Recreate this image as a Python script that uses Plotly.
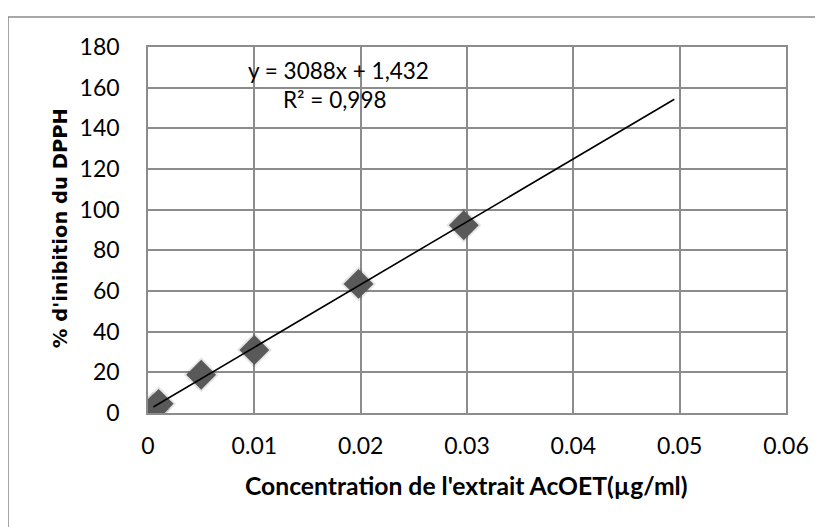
import plotly.graph_objects as go

# Data
conc = [0.0005, 0.001, 0.005, 0.01, 0.0198, 0.0297]
inhib = [2.0, 4.5, 18.8, 31.0, 63.5, 92.3]

# Linear trend line (as printed on chart)
slope = 3088
intercept = 1.432
trend_x = [0.0005, 0.0495]
trend_y = [slope * x + intercept for x in trend_x]

x_ticks = [0, 0.01, 0.02, 0.03, 0.04, 0.05, 0.06]
y_ticks = [0, 20, 40, 60, 80, 100, 120, 140, 160, 180]

eq_text = "y = 3088x + 1,432"
r2_text = "R² = 0,998"
x_title = "Concentration de l'extrait AcOET(µg/ml)"
y_title = "% d'inibition du DPPH"

grid = "#8c8c8c"

fig = go.Figure()
fig.add_trace(go.Scatter(
    x=conc, y=inhib, mode="markers",
    marker=dict(symbol="diamond", size=27, color="rgba(0,0,0,0.10)", line=dict(width=0)),
    hoverinfo="skip", showlegend=False))
fig.add_trace(go.Scatter(
    x=conc, y=inhib, mode="markers",
    marker=dict(symbol="diamond", size=23, color="#595959", line=dict(width=0)),
    showlegend=False))
fig.add_trace(go.Scatter(
    x=trend_x, y=trend_y, mode="lines",
    line=dict(color="black", width=1.6), showlegend=False))

fig.add_annotation(x=0.0179, y=168.5, text=eq_text, showarrow=False,
                   font=dict(family="Lato", size=22.5, color="black"))
fig.add_annotation(x=0.0176, y=154, text=r2_text, showarrow=False,
                   font=dict(family="Lato", size=22.5, color="black"))

fig.add_annotation(xref="paper", yref="paper", x=0.499, y=-0.197,
                   xanchor="center", yanchor="middle",
                   text=f"<b>{x_title}</b>", showarrow=False,
                   font=dict(family="Lato", size=24.7, color="black"))
fig.add_annotation(xref="paper", yref="paper", x=-0.138, y=0.505,
                   xanchor="center", yanchor="middle",
                   text=f"<b>{y_title}</b>", showarrow=False, textangle=-90,
                   font=dict(family="DejaVu Sans", size=19.5, color="black"))

# outer chart border (left and top visible)
fig.add_shape(type="rect", xref="paper", yref="paper",
              x0=-0.2194, x1=1.3, y0=-0.5, y1=1.082,
              line=dict(color="#8a8a8a", width=1.5), fillcolor="rgba(0,0,0,0)",
              layer="below")

# page body has an 8px margin, so the figure is shrunk/offset accordingly
fig.update_layout(
    width=815, height=519,
    margin=dict(l=140, r=37, t=39, b=114),
    paper_bgcolor="white", plot_bgcolor="white",
    font=dict(family="Lato", size=23, color="black"),
    xaxis=dict(range=[0, 0.06], tickvals=x_ticks, ticktext=[str(v) for v in x_ticks],
               showgrid=True, gridcolor=grid, gridwidth=1.5,
               showline=True, linecolor=grid, linewidth=1.5, mirror=True,
               zeroline=False, ticks="", ticklabelstandoff=12),
    yaxis=dict(range=[0, 180], tickvals=y_ticks,
               showgrid=True, gridcolor=grid, gridwidth=1.5,
               showline=True, linecolor=grid, linewidth=1.5, mirror=True,
               zeroline=False, ticks="", ticklabelstandoff=22),
)

fig.write_html("out.html")
